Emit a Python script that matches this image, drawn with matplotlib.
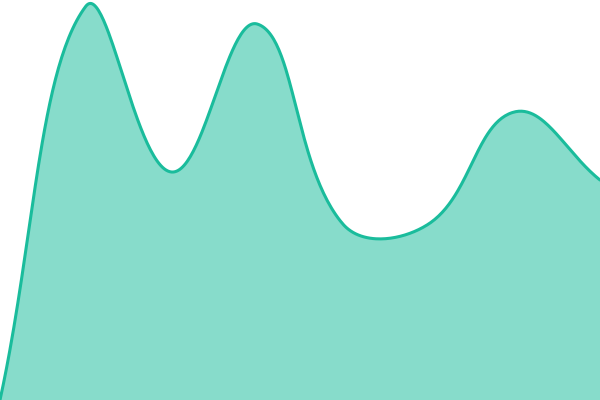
import matplotlib
matplotlib.use('Agg')
import matplotlib.pyplot as plt
import numpy as np

# values (y axis 0..100, hidden)
labels = ['1', '2', '3', '4', '5', '6', '7', '8']
values = [0, 98.4, 57, 94, 44, 44, 72, 55]

W, H = 600, 400
tension = 0.4

fig = plt.figure(figsize=(6, 4), dpi=100)
ax = fig.add_axes([0, 0, 1, 1])
ax.set_xlim(0, len(values) - 1)
ax.set_ylim(0, 100)
ax.axis('off')

# points in pixel space so the spline behaves like a canvas chart
xs = np.arange(len(values)) * W / (len(values) - 1)
ys = np.array(values) * H / 100.0
pts = np.column_stack([xs, ys])

def controls(p0, p1, p2, t):
    d01 = np.hypot(*(p1 - p0))
    d12 = np.hypot(*(p2 - p1))
    tot = d01 + d12
    s01 = d01 / tot if tot else 0
    s12 = d12 / tot if tot else 0
    fa, fb = t * s01, t * s12
    prev = p1 - fa * (p2 - p0)
    nxt = p1 + fb * (p2 - p0)
    return prev, nxt

n = len(pts)
cprev, cnext = [], []
for i in range(n):
    p0 = pts[max(i - 1, 0)]
    p2 = pts[min(i + 1, n - 1)]
    a, b = controls(p0, pts[i], p2, tension)
    cprev.append(a)
    cnext.append(b)

curve = []
tt = np.linspace(0, 1, 60)[:, None]
for i in range(n - 1):
    P0, P1, P2, P3 = pts[i], cnext[i], cprev[i + 1], pts[i + 1]
    seg = ((1 - tt) ** 3) * P0 + 3 * ((1 - tt) ** 2) * tt * P1 + 3 * (1 - tt) * tt ** 2 * P2 + tt ** 3 * P3
    curve.append(seg if i == 0 else seg[1:])
curve = np.vstack(curve)

cx = curve[:, 0] * (len(values) - 1) / W
cy = curve[:, 1] * 100.0 / H

ax.fill_between(cx, cy, 0, color='#1abc9c', alpha=0.52, linewidth=0)
ax.plot(cx, cy, color='#1abc9c', linewidth=2.2, solid_capstyle='round')

fig.savefig('out.png', dpi=100)
